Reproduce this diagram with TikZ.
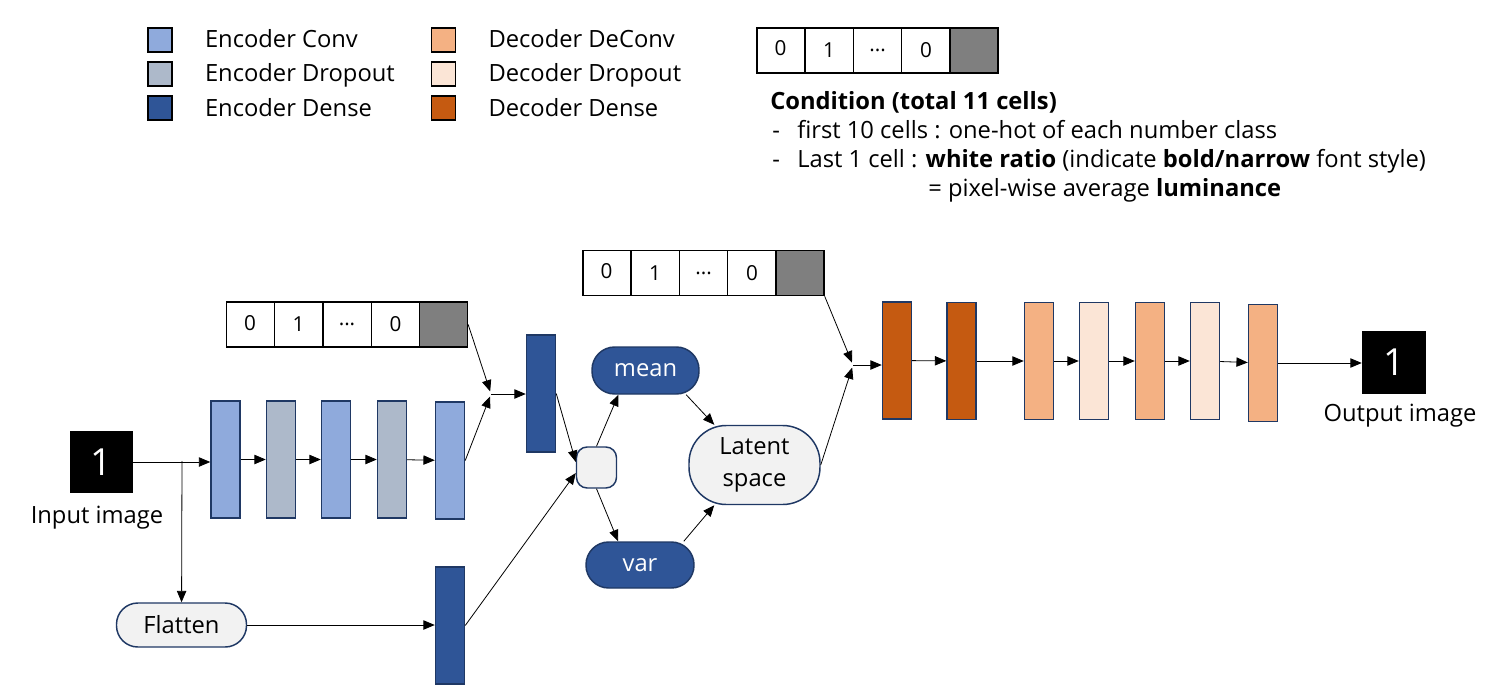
\documentclass[tikz,border=0pt]{standalone}
\usepackage{fontspec}
\setmainfont{Open Sans}
\usetikzlibrary{arrows.meta,shapes.multipart,positioning,calc}

\definecolor{encconv}{HTML}{8FAADC}
\definecolor{encdrop}{HTML}{ADB9CA}
\definecolor{encdense}{HTML}{2F5597}
\definecolor{decconv}{HTML}{F4B183}
\definecolor{decdrop}{HTML}{FBE5D6}
\definecolor{decdense}{HTML}{C55A11}
\definecolor{edge}{HTML}{1F3864}
\definecolor{light}{HTML}{F2F2F2}
\definecolor{cellgray}{HTML}{7F7F7F}

\tikzset{
  layer/.style={draw=edge, line width=1.1pt, minimum width=21.75pt, minimum height=87.75pt, inner sep=0pt},
  legbox/.style={draw=black, line width=1.1pt, minimum size=18pt, inner sep=0pt},
  legtext/.style={inner sep=0pt, anchor=west, text height=14pt, text depth=2pt},
  txt/.style={inner sep=0pt},
  pill/.style={draw=edge, line width=1.1pt, fill=light, inner sep=0pt},
  darkpill/.style={draw=edge, line width=1.1pt, fill=encdense, text=white, inner sep=0pt},
  condvec/.style={rectangle split, rectangle split horizontal, rectangle split parts=5,
    rectangle split part fill={white,white,white,white,cellgray},
    draw=black, line width=1.1pt, inner xsep=0pt, inner ysep=0pt,
    text width=35.25pt, align=center, text height=21pt, text depth=12.75pt,
    font=\fontsize{15.5}{18}\selectfont},
  digit/.style={fill=black, text=white, inner sep=0pt, font=\fontsize{28}{30}\selectfont},
  arr/.style={->, line width=0.6pt},
}

\begin{document}
\begin{tikzpicture}[x=0.75pt, y=-0.75pt, font=\fontsize{17.8}{21}\selectfont,
  >={Triangle[length=8.5pt,width=7pt]}]
\useasboundingbox (0,0) rectangle (1499,699);

% legend
\node[legbox, fill=encconv] (lgEconv) at (160,40) {};
\node[legbox, fill=encdrop] (lgEdrop) at (160,74) {};
\node[legbox, fill=encdense] (lgEdense) at (160,108) {};
\node[legtext, right=24pt of lgEconv] {Encoder Conv};
\node[legtext, right=24pt of lgEdrop] {Encoder Dropout};
\node[legtext, right=24pt of lgEdense] {Encoder Dense};
\node[legbox, fill=decconv] (lgDconv) at (443.5,40) {};
\node[legbox, fill=decdrop] (lgDdrop) at (443.5,74) {};
\node[legbox, fill=decdense] (lgDdense) at (443.5,108) {};
\node[legtext, right=24pt of lgDconv] {Decoder DeConv};
\node[legtext, right=24pt of lgDdrop] {Decoder Dropout};
\node[legtext, right=24pt of lgDdense] {Decoder Dense};

% condition explained
\node[condvec] (condTop) at (877.5,50.5) {0 \nodepart{two} 1 \nodepart{three} ... \nodepart{four} 0 \nodepart{five} \mbox{}};
\node[txt, anchor=base west] (condTitle) at (770,109) {\textbf{Condition (total 11 cells)}};
\node[txt, anchor=base west] (dashA) at (772,138) {-};
\node[txt, anchor=base west] (condA) at (797,138) {first 10 cells : one-hot of each number class};
\node[txt, anchor=base west] (dashB) at (772,167) {-};
\node[txt, anchor=base west] (condB) at (797,167) {Last 1 cell : \textbf{white ratio} (indicate \textbf{bold/narrow} font style)};
\node[txt, anchor=base west] (condC) at (928,196) {= pixel-wise average \textbf{luminance}};

% encoder
\node[digit, minimum width=47.25pt, minimum height=46.5pt] (input) at (101.5,462) {1};
\node[txt] (inLabel) at (97,518) {Input image};
\node[layer, fill=encconv] (e1) at (225.5,459.5) {};
\node[layer, fill=encdrop] (e2) at (281,459.5) {};
\node[layer, fill=encconv] (e3) at (336,459.5) {};
\node[layer, fill=encdrop] (e4) at (392,459.5) {};
\node[layer, fill=encconv] (e5) at (450,460.5) {};
\node[pill, minimum width=97.5pt, minimum height=33pt, rounded corners=16pt] (flatten) at (181.5,625) {Flatten};
\node[layer, fill=encdense] (dA) at (541,393.5) {};
\node[layer, fill=encdense] (dB) at (450,625.5) {};
\node[condvec] (condA) at (347,324.5) {0 \nodepart{two} 1 \nodepart{three} ... \nodepart{four} 0 \nodepart{five} \mbox{}};
\coordinate (split) at (182,461);
\coordinate (mergeA) at (491,394);

% sampling
\node[pill, minimum width=30pt, minimum height=30.75pt, rounded corners=8pt] (sample) at (596.5,467.5) {};
\node[darkpill, minimum width=80.25pt, minimum height=35.25pt, rounded corners=17pt] (mean) at (645.5,370.5) {mean};
\node[darkpill, minimum width=81pt, minimum height=34.5pt, rounded corners=17pt] (var) at (640,565) {var};
\node[pill, minimum width=98.25pt, minimum height=59.25pt, rounded corners=28pt, align=center] (latent) at (754.5,465) {Latent\\[3pt]space};

% decoder
\node[condvec] (condB) at (703.5,273) {0 \nodepart{two} 1 \nodepart{three} ... \nodepart{four} 0 \nodepart{five} \mbox{}};
\coordinate (mergeB) at (853,365);
\node[layer, fill=decdense] (c1) at (897,360.5) {};
\node[layer, fill=decdense] (c2) at (961.5,361) {};
\node[layer, fill=decconv] (c3) at (1039,361) {};
\node[layer, fill=decdrop] (c4) at (1094,361) {};
\node[layer, fill=decconv] (c5) at (1150,361) {};
\node[layer, fill=decdrop] (c6) at (1205,361) {};
\node[layer, fill=decconv] (c7) at (1263,363) {};
\node[digit, minimum width=48pt, minimum height=47.25pt] (output) at (1394,362.5) {1};
\node[txt] (outLabel) at (1400,416) {Output image};

% connectors
\draw[arr] (input.east) -- (input.east -| e1.west);
\draw[arr] (split) -- (flatten);
\draw[arr] (e1) -- (e2);
\draw[arr] (e2) -- (e3);
\draw[arr] (e3) -- (e4);
\draw[arr] (e4) -- (e5);
\draw[arr] (flatten.east) -- (flatten.east -| dB.west);
\draw[arr, shorten >=2pt] (condA.east) -- (mergeA);
\draw[arr, shorten >=2pt] (e5.east) -- (mergeA);
\draw[arr] (mergeA) -- (mergeA -| dA.west);
\draw[arr] (dA.east) -- (sample.165);
\draw[arr] (dB.east) -- (sample.195);
\draw[arr] (sample.north) -- ($(mean.south)!0.5!(mean.south west)$);
\draw[arr] (sample.south) -- ($(var.north)!0.4!(var.north west)$);
\draw[arr] ($(mean.south east)!0.25!(mean.south)$) -- (latent.135);
\draw[arr] ($(var.north east)!0.2!(var.north)$) -- (latent.225);
\draw[arr, shorten >=2pt] (condB.south east) -- (mergeB);
\draw[arr, shorten >=2pt] (latent.east) -- (mergeB);
\draw[arr] (mergeB) -- (mergeB -| c1.west);
\draw[arr] (c1) -- (c2);
\draw[arr] (c2) -- (c3);
\draw[arr] (c3) -- (c4);
\draw[arr] (c4) -- (c5);
\draw[arr] (c5) -- (c6);
\draw[arr] (c6) -- (c7);
\draw[arr] (c7.east) -- (c7.east -| output.west);
\end{tikzpicture}
\end{document}
